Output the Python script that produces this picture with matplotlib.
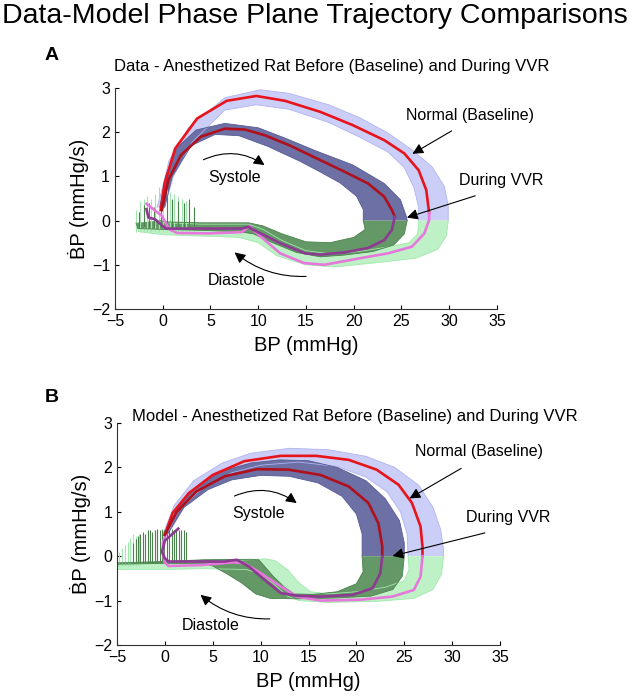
import numpy as np
import matplotlib
matplotlib.use("Agg")
import matplotlib.pyplot as plt

plt.rcParams['font.family'] = ['Liberation Sans', 'DejaVu Sans']

# ---------------- Panel A (data) ----------------
A_base_sys_x = [-0.2, 0.2, 1.3, 3.6, 6.7, 9.8, 12.8, 16.5, 19.9, 23.2, 25.3, 26.8, 27.6, 27.9]
A_base_sys_y = [0.24, 0.84, 1.63, 2.31, 2.71, 2.82, 2.71, 2.46, 2.16, 1.82, 1.52, 1.14, 0.69, 0.17]
A_base_dia_x = [27.9, 27.9, 27.4, 26.1, 23.6, 20.7, 16.9, 14.8, 12.3, 9.5, 9.1, 8.3, 4.8, 1.5, 0.7, -0.1, -1.7]
A_base_dia_y = [0.17, 0.02, -0.29, -0.59, -0.74, -0.85, -1.0, -0.96, -0.74, -0.22, -0.12, -0.26, -0.29, -0.28, -0.2, 0.11, 0.38]
A_vvr_sys_x = [-0.1, 0.6, 1.9, 4.0, 6.5, 8.6, 10.7, 13.2, 16.1, 19.0, 21.5, 23.2, 24.0, 24.3]
A_vvr_sys_y = [0.24, 0.92, 1.48, 1.9, 2.08, 2.06, 1.93, 1.71, 1.41, 1.11, 0.84, 0.54, 0.24, 0.09]
A_vvr_dia_x = [24.3, 24.0, 23.2, 21.5, 19.0, 16.5, 14.9, 12.3, 9.4, 9.0, 8.2, 4.0, 0.3, -0.8, -1.5, -1.7]
A_vvr_dia_y = [0.09, -0.21, -0.44, -0.62, -0.72, -0.77, -0.74, -0.51, -0.2, -0.14, -0.18, -0.18, -0.18, 0.03, 0.07, 0.26]

A_lb_out_x = [-0.6, -0.2, 0.65, 2.7, 6.5, 10.2, 13.2, 17.4, 20.7, 23.6, 26.1, 28.2, 29.5, 29.9, 29.9]
A_lb_out_y = [0.3, 0.6, 1.35, 2.1, 2.78, 2.96, 2.88, 2.62, 2.32, 1.98, 1.6, 1.22, 0.77, 0.32, 0.0]
A_lb_in_x = [0.2, 1.1, 3.1, 6.5, 9.8, 13.2, 17.4, 20.7, 23.6, 25.3, 26.3, 26.8, 26.8]
A_lb_in_y = [0.3, 0.99, 1.78, 2.5, 2.62, 2.52, 2.22, 1.88, 1.55, 1.2, 0.75, 0.3, 0.0]
A_db_out_x = [-0.3, 0.3, 1.5, 3.5, 6.5, 10.0, 13.0, 16.0, 19.9, 23.2, 24.9, 25.5, 25.6]
A_db_out_y = [0.3, 1.0, 1.65, 2.05, 2.2, 2.1, 1.85, 1.58, 1.26, 0.84, 0.47, 0.1, 0.0]
A_db_in_x = [0.2, 1.0, 3.0, 5.5, 8.0, 11.0, 14.4, 16.5, 18.6, 20.3, 21.0, 21.0]
A_db_in_y = [0.3, 1.0, 1.7, 1.95, 1.92, 1.68, 1.34, 1.1, 0.85, 0.55, 0.25, 0.0]
A_lg_out_x = [29.9, 29.7, 28.8, 26.5, 22.5, 18.0, 15.0, 12.0, 10.0, 8.0, 4.0, 0.0, -2.5, -2.8]
A_lg_out_y = [0.0, -0.35, -0.65, -0.85, -0.95, -1.05, -1.0, -0.8, -0.5, -0.38, -0.35, -0.32, -0.25, -0.1]
A_lg_in_x = [26.8, 26.7, 25.8, 23.5, 20.5, 17.5, 15.0, 12.5, 10.5, 9.0, 4.0, 0.5, -0.5]
A_lg_in_y = [0.0, -0.3, -0.5, -0.6, -0.7, -0.75, -0.68, -0.45, -0.2, -0.08, -0.08, -0.05, 0.0]
A_dg_out_x = [25.6, 25.3, 24.2, 22.0, 19.0, 16.5, 14.0, 11.5, 9.5, 8.0, 4.0, 0.0, -2.6, -2.8]
A_dg_out_y = [0.0, -0.3, -0.55, -0.7, -0.78, -0.82, -0.72, -0.5, -0.3, -0.25, -0.22, -0.2, -0.18, -0.05]
A_dg_in_x = [21.0, 21.2, 20.0, 17.5, 15.0, 12.5, 10.5, 9.0, 4.0, 0.5, -0.3]
A_dg_in_y = [0.0, -0.2, -0.38, -0.5, -0.48, -0.3, -0.12, -0.05, -0.05, -0.03, 0.0]
A_lg_spike_x = [-2.8, -2.4, -2.0, -1.6, -1.2, -0.8, -0.4, 0.0, 0.4, 0.8, 1.2, 1.6, 2.0, 2.4, 2.8, 3.3]
A_lg_spike_top = [0.25, 0.45, 0.5, 0.55, 0.5, 0.6, 0.75, 0.7, 0.72, 0.65, 0.6, 0.55, 0.5, 0.45, 0.4, 0.25]
A_dg_spike_x = [-2.5, -2.0, -1.4, -0.9, -0.2, 0.5, 1.0, 1.6, 2.2, 2.8, 3.3]
A_dg_spike_top = [0.2, 0.35, 0.4, 0.3, 0.45, 0.55, 0.5, 0.45, 0.4, 0.5, 0.3]

# ---------------- Panel B (model) ----------------
B_base_sys_x = [0.0, 0.8, 2.5, 5.0, 8.3, 12.1, 15.8, 19.2, 22.1, 24.4, 25.8, 26.7, 26.9, 26.9]
B_base_sys_y = [0.48, 0.97, 1.42, 1.83, 2.14, 2.26, 2.26, 2.17, 1.95, 1.61, 1.2, 0.67, 0.22, 0.0]
B_base_dia_x = [26.9, 26.7, 26.0, 23.75, 20.4, 16.25, 13.75, 12.1, 10.0, 8.3, 7.1, 3.75, 0.4, 0.0, -0.2, -0.2, 0.1]
B_base_dia_y = [0.0, -0.46, -0.76, -0.91, -0.98, -1.0, -0.91, -0.68, -0.38, -0.16, -0.14, -0.2, -0.22, -0.15, 0.05, 0.3, 0.5]
B_vvr_sys_x = [0.0, 1.25, 3.3, 6.25, 9.6, 12.9, 16.25, 19.2, 21.25, 22.3, 22.7, 22.7]
B_vvr_sys_y = [0.48, 1.0, 1.46, 1.8, 1.96, 1.95, 1.83, 1.57, 1.2, 0.74, 0.22, 0.0]
B_vvr_dia_x = [22.7, 22.5, 21.7, 19.6, 16.25, 13.75, 12.1, 10.4, 8.75, 7.5, 6.25, 3.75, 0.4, 0.0, -0.3, 0.0, 1.4]
B_vvr_dia_y = [0.0, -0.38, -0.72, -0.87, -0.91, -0.89, -0.83, -0.53, -0.23, -0.08, -0.12, -0.12, -0.12, -0.05, 0.1, 0.35, 0.62]

B_lb_out_x = [-0.2, 1.0, 3.0, 6.0, 9.0, 13.0, 17.0, 21.0, 24.0, 26.5, 28.0, 28.8, 29.1, 29.1]
B_lb_out_y = [0.5, 1.15, 1.7, 2.1, 2.32, 2.43, 2.4, 2.25, 2.0, 1.6, 1.1, 0.6, 0.15, 0.0]
B_lb_in_x = [0.2, 1.5, 4.0, 7.0, 10.0, 14.0, 18.0, 21.0, 23.2, 24.6, 25.3, 25.4]
B_lb_in_y = [0.5, 1.05, 1.55, 1.88, 2.05, 2.12, 2.02, 1.78, 1.45, 1.0, 0.5, 0.0]
B_db_out_x = [-0.1, 1.5, 3.5, 6.0, 9.0, 12.0, 15.0, 18.0, 21.0, 23.0, 24.5, 25.0, 25.0]
B_db_out_y = [0.5, 1.15, 1.6, 1.92, 2.1, 2.17, 2.15, 2.0, 1.7, 1.3, 0.8, 0.3, 0.0]
B_db_in_x = [0.3, 2.0, 4.5, 7.0, 10.0, 13.0, 16.0, 18.5, 20.0, 20.6, 20.6]
B_db_in_y = [0.5, 1.1, 1.5, 1.72, 1.82, 1.8, 1.65, 1.35, 0.95, 0.5, 0.0]
B_lg_out_x = [29.1, 28.9, 28.0, 26.0, 22.0, 17.0, 14.0, 12.8, 11.5, 10.0, 8.5, 4.0, 0.0, -5.0]
B_lg_out_y = [0.0, -0.4, -0.75, -0.95, -1.02, -1.04, -1.0, -0.9, -0.65, -0.4, -0.3, -0.28, -0.3, -0.3]
B_lg_in_x = [25.4, 25.5, 25.0, 23.0, 20.0, 17.0, 15.2, 14.0, 12.8, 11.5, 10.5, 5.0, 0.0, -5.0]
B_lg_in_y = [0.0, -0.3, -0.55, -0.7, -0.8, -0.85, -0.8, -0.6, -0.3, -0.1, -0.06, -0.12, -0.16, -0.2]
B_dg_out_x = [25.0, 24.8, 23.8, 21.5, 18.0, 14.0, 11.0, 9.5, 8.0, 6.5, 5.0, 4.0, 0.0, -5.0]
B_dg_out_y = [0.0, -0.45, -0.75, -0.9, -0.94, -0.96, -0.95, -0.85, -0.6, -0.4, -0.22, -0.16, -0.16, -0.18]
B_dg_in_x = [20.6, 20.7, 20.0, 18.0, 15.5, 13.5, 12.5, 11.3, 10.3, 9.8, 9.0, 4.0, 0.0, -5.0]
B_dg_in_y = [0.0, -0.35, -0.62, -0.8, -0.86, -0.85, -0.7, -0.45, -0.2, -0.08, -0.07, -0.08, -0.12, -0.15]
B_lg_spike_x = [-4.8, -4.5, -4.2, -3.9, -3.6, -3.3, -3.0, -2.7]
B_lg_spike_top = [0.1, 0.18, 0.25, 0.32, 0.4, 0.5, 0.45, 0.5]
B_dg_spike_x = [-3.3, -3.05, -2.8, -2.55, -2.3, -2.05, -1.8, -1.55, -1.3, -1.05, -0.8, -0.55, -0.3,
                -0.05, 0.2, 0.45, 0.7, 0.95, 1.2, 1.45, 1.7, 1.95, 2.2]
B_dg_spike_top = [0.3, 0.38, 0.45, 0.5, 0.55, 0.5, 0.58, 0.6, 0.55, 0.6, 0.62, 0.6, 0.62,
                  0.6, 0.62, 0.58, 0.62, 0.6, 0.62, 0.6, 0.6, 0.58, 0.55]

x_ticks = [-5, 0, 5, 10, 15, 20, 25, 30, 35]
y_ticks = [-2, -1, 0, 1, 2, 3]

C_LB, C_LB_E = '#cbcef6', '#b0b4ef'
C_DB, C_DB_E = '#6c70a5', '#575b93'
C_LG, C_LG_E = '#bef2c6', '#a0e8ad'
C_DG, C_DG_E = '#649866', '#4a814d'
C_RED, C_DRED = '#e8141c', '#b0101c'
C_PINK, C_PURP = '#e678dc', '#8c3a92'


def band(ax, ox, oy, ix, iy, fc, ec):
    ax.fill(list(ox) + list(ix)[::-1], list(oy) + list(iy)[::-1], color=fc, lw=0)
    ax.plot(ox, oy, color=ec, lw=0.6)
    ax.plot(ix, iy, color=ec, lw=0.6)


def panel(ax, d, base):
    band(ax, d['lb_ox'], d['lb_oy'], d['lb_ix'], d['lb_iy'], C_LB, C_LB_E)
    band(ax, d['lg_ox'], d['lg_oy'], d['lg_ix'], d['lg_iy'], C_LG, C_LG_E)
    ax.vlines(d['lgs_x'], base[0], d['lgs_t'], color=C_LG_E, lw=0.8)
    band(ax, d['db_ox'], d['db_oy'], d['db_ix'], d['db_iy'], C_DB, C_DB_E)
    band(ax, d['dg_ox'], d['dg_oy'], d['dg_ix'], d['dg_iy'], C_DG, C_DG_E)
    ax.vlines(d['dgs_x'], base[1], d['dgs_t'], color=C_DG_E, lw=0.8)
    ax.plot(d['bs_x'], d['bs_y'], color=C_RED, lw=1.9)
    ax.plot(d['bd_x'], d['bd_y'], color=C_PINK, lw=1.9)
    ax.plot(d['vs_x'], d['vs_y'], color=C_DRED, lw=1.9)
    ax.plot(d['vd_x'], d['vd_y'], color=C_PURP, lw=1.9)

    ax.set_xlim(-5, 35)
    ax.set_ylim(-2, 3)
    ax.set_xticks(x_ticks)
    ax.set_yticks(y_ticks)
    ax.tick_params(direction='in', length=3, labelsize=11.5, width=0.8)
    for s in ['top', 'right']:
        ax.spines[s].set_visible(False)
    for s in ['left', 'bottom']:
        ax.spines[s].set_linewidth(0.8)
        ax.spines[s].set_color('#333333')
    ax.set_xlabel('BP (mmHg)', fontsize=14.5, labelpad=5)
    ax.set_ylabel('\u1E02P (mmHg/s)', fontsize=14.5, labelpad=2)

    ap = dict(arrowstyle='-|>', color='black', lw=0.8, mutation_scale=16)
    for txt, tx, ty, sx, sy, ex, ey, rad in d['notes']:
        ax.text(tx, ty, txt, ha='center', va='center', fontsize=11.5)
        ax.annotate('', xy=(ex, ey), xytext=(sx, sy),
                    arrowprops=dict(ap, connectionstyle=f'arc3,rad={rad}'),
                    annotation_clip=False)


fig = plt.figure(figsize=(6.3, 6.96), dpi=100)
axA = fig.add_axes([0.1825, 1 - 309 / 696, 0.6063, 221 / 696])
axB = fig.add_axes([0.1857, 1 - 645 / 696, 0.6080, 222 / 696])

dA = dict(bs_x=A_base_sys_x, bs_y=A_base_sys_y, bd_x=A_base_dia_x, bd_y=A_base_dia_y,
          vs_x=A_vvr_sys_x, vs_y=A_vvr_sys_y, vd_x=A_vvr_dia_x, vd_y=A_vvr_dia_y,
          lb_ox=A_lb_out_x, lb_oy=A_lb_out_y, lb_ix=A_lb_in_x, lb_iy=A_lb_in_y,
          db_ox=A_db_out_x, db_oy=A_db_out_y, db_ix=A_db_in_x, db_iy=A_db_in_y,
          lg_ox=A_lg_out_x, lg_oy=A_lg_out_y, lg_ix=A_lg_in_x, lg_iy=A_lg_in_y,
          dg_ox=A_dg_out_x, dg_oy=A_dg_out_y, dg_ix=A_dg_in_x, dg_iy=A_dg_in_y,
          lgs_x=A_lg_spike_x, lgs_t=A_lg_spike_top, dgs_x=A_dg_spike_x, dgs_t=A_dg_spike_top,
          notes=[('Normal (Baseline)', 32.2, 2.38, 30.5, 2.06, 25.9, 1.48, 0.0),
                 ('During VVR', 35.4, 0.9, 33.0, 0.58, 25.3, 0.05, 0.0),
                 ('Systole', 7.5, 0.98, 4.0, 1.35, 10.9, 1.22, -0.3),
                 ('Diastole', 7.7, -1.35, 15.3, -1.26, 7.3, -0.68, -0.2)])
dB = dict(bs_x=B_base_sys_x, bs_y=B_base_sys_y, bd_x=B_base_dia_x, bd_y=B_base_dia_y,
          vs_x=B_vvr_sys_x, vs_y=B_vvr_sys_y, vd_x=B_vvr_dia_x, vd_y=B_vvr_dia_y,
          lb_ox=B_lb_out_x, lb_oy=B_lb_out_y, lb_ix=B_lb_in_x, lb_iy=B_lb_in_y,
          db_ox=B_db_out_x, db_oy=B_db_out_y, db_ix=B_db_in_x, db_iy=B_db_in_y,
          lg_ox=B_lg_out_x, lg_oy=B_lg_out_y, lg_ix=B_lg_in_x, lg_iy=B_lg_in_y,
          dg_ox=B_dg_out_x, dg_oy=B_dg_out_y, dg_ix=B_dg_in_x, dg_iy=B_dg_in_y,
          lgs_x=B_lg_spike_x, lgs_t=B_lg_spike_top, dgs_x=B_dg_spike_x, dgs_t=B_dg_spike_top,
          notes=[('Normal (Baseline)', 32.8, 2.36, 31.2, 2.01, 25.3, 1.27, 0.0),
                 ('During VVR', 35.9, 0.88, 33.7, 0.54, 23.5, -0.01, 0.0),
                 ('Systole', 9.8, 0.97, 7.0, 1.33, 14.0, 1.16, -0.3),
                 ('Diastole', 4.75, -1.56, 11.25, -1.41, 3.5, -0.83, -0.2)])

panel(axA, dA, (-0.25, -0.15))
panel(axB, dB, (-0.22, -0.15))

fig.text(0.5, 1 - 16 / 696, 'Data-Model Phase Plane Trajectory Comparisons',
         ha='center', va='center', fontsize=20.5)
fig.text(332 / 630, 1 - 66 / 696, 'Data - Anesthetized Rat Before (Baseline) and During VVR',
         ha='center', va='center', fontsize=12)
fig.text(355 / 630, 1 - 416 / 696, 'Model - Anesthetized Rat Before (Baseline) and During VVR',
         ha='center', va='center', fontsize=12)
fig.text(52 / 630, 1 - 55 / 696, 'A', ha='center', va='center', fontsize=14, fontweight='bold')
fig.text(52 / 630, 1 - 397 / 696, 'B', ha='center', va='center', fontsize=14, fontweight='bold')

fig.savefig('out.png', dpi=100)
